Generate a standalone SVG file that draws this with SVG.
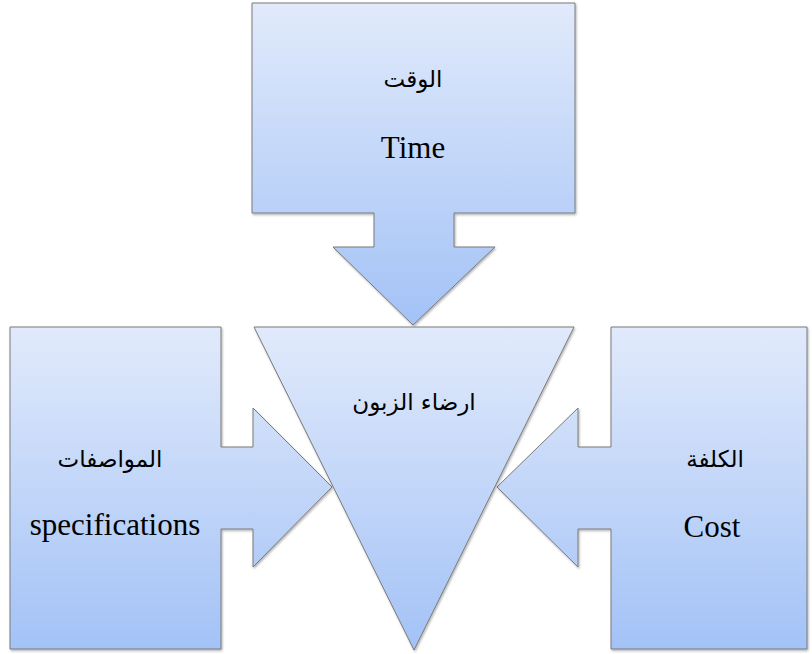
<svg xmlns="http://www.w3.org/2000/svg" width="812" height="654" viewBox="0 0 812 654">
<defs>
<linearGradient id="gTop" gradientUnits="userSpaceOnUse" x1="0" y1="3" x2="0" y2="325">
<stop offset="0" stop-color="#e1eafb"/><stop offset="1" stop-color="#a3c2f6"/></linearGradient>
<linearGradient id="gSide" gradientUnits="userSpaceOnUse" x1="0" y1="327" x2="0" y2="650">
<stop offset="0" stop-color="#e1eafb"/><stop offset="1" stop-color="#a3c2f6"/></linearGradient>
<filter id="sh" x="-5%" y="-5%" width="110%" height="110%">
<feDropShadow dx="1" dy="1.5" stdDeviation="1.2" flood-color="#000" flood-opacity="0.3"/></filter>
</defs>
<style>
.shape{stroke:#7a7a7a;stroke-width:1;filter:url(#sh)}
.en{font-family:"Liberation Serif","Times New Roman",serif;font-size:31px;fill:#000;text-anchor:middle}
.ar{font-family:"DejaVu Sans","Noto Sans",sans-serif;font-size:23px;fill:#000;text-anchor:middle}
</style>
<g id="node-time">
<path class="shape" fill="url(#gTop)" d="M252,3 H575 V213 H454 V247 H495 L413,325 L333,247 H374 V213 H252 Z"/>
<text class="ar" x="413" y="87" direction="rtl">الوقت</text>
<text class="en" x="413" y="158">Time</text>
</g>
<g id="node-specs">
<path class="shape" fill="url(#gSide)" d="M10,327 H221 V447 H253 V408 L332,487 L253,567 V529 H221 V649 H10 Z"/>
<text class="ar" x="110" y="467" direction="rtl">المواصفات</text>
<text class="en" x="115" y="535">specifications</text>
</g>
<g id="node-cost">
<path class="shape" fill="url(#gSide)" d="M807,327 H611 V447 H578 V408 L497,487 L578,567 V529 H611 V649 H807 Z"/>
<text class="ar" x="715" y="467" direction="rtl">الكلفة</text>
<text class="en" x="712" y="537">Cost</text>
</g>
<g id="node-satisfaction">
<path class="shape" fill="url(#gSide)" d="M254,327 H574 L414,650 Z"/>
<text class="ar" x="414" y="410" direction="rtl">ارضاء الزبون</text>
</g>
<g id="connectors"></g>
</svg>
